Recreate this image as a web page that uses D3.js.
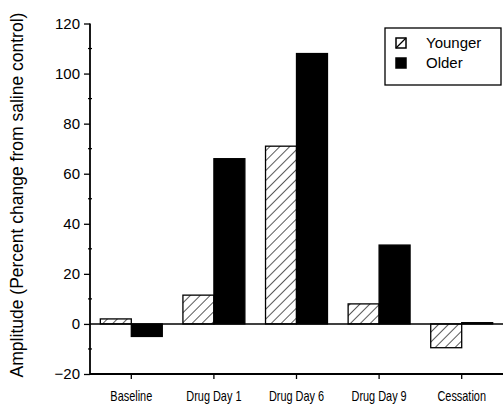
<!DOCTYPE html>
<html><head><meta charset="utf-8">
<script src="https://cdn.jsdelivr.net/npm/d3@7"></script>
<style>
body{margin:0;background:#fff;}
svg{display:block;}
</style></head>
<body><svg id="c" width="503" height="405"></svg>
<script>
const categories = ["Baseline","Drug Day 1","Drug Day 6","Drug Day 9","Cessation"];
const seriesNames = ["Younger","Older"];
const younger = [2, 11.5, 71, 8, -9.5];
const older = [-5, 66, 108, 31.5, 0.5];
const yTicks = [-20, 0, 20, 40, 60, 80, 100, 120];
const yMinorTicks = [-10, 10, 30, 50, 70, 90, 110];
const yTitle = "Amplitude (Percent change from saline control)";

const svg = d3.select("#c");
const x0 = 90, x1 = 503, yTop = 23.5, yBot = 374;

const defs = svg.append("defs");
const pat = defs.append("pattern").attr("id","hatch").attr("patternUnits","userSpaceOnUse")
  .attr("width",7).attr("height",7).attr("patternTransform","rotate(45)");
pat.append("rect").attr("width",7).attr("height",7).attr("fill","#fff");
pat.append("line").attr("x1",0).attr("y1",0).attr("x2",0).attr("y2",7).attr("stroke","#000").attr("stroke-width",1.3);

const y = d3.scaleLinear().domain([-20,120]).range([yBot, yTop]);
const x = d3.scaleBand().domain(categories).range([x0, x1]).paddingInner(0.25).paddingOuter(0.125);
const xs = d3.scaleBand().domain(seriesNames).range([0, x.bandwidth()]);

const data = [];
categories.forEach((c,i)=>{
  data.push({cat:c, s:"Younger", v:younger[i]});
  data.push({cat:c, s:"Older", v:older[i]});
});

// bars
svg.append("g").selectAll("rect").data(data).join("rect")
  .attr("x", d => x(d.cat) + xs(d.s))
  .attr("width", xs.bandwidth())
  .attr("y", d => y(Math.max(0, d.v)))
  .attr("height", d => Math.abs(y(d.v) - y(0)))
  .attr("fill", d => d.s === "Younger" ? "url(#hatch)" : "#000")
  .attr("stroke", "#000").attr("stroke-width", 1.3);

// zero line
svg.append("line").attr("x1", x0).attr("x2", x1).attr("y1", y(0)).attr("y2", y(0))
  .attr("stroke","#000").attr("stroke-width",1.4);

// y axis
const yAxis = d3.axisLeft(y).tickValues(yTicks).tickSize(6).tickPadding(4).tickFormat(d3.format("d"));
const gy = svg.append("g").attr("transform", `translate(${x0},0)`).call(yAxis);
gy.select(".domain").remove();
gy.selectAll("text").attr("font-family","'Liberation Sans', Arial, sans-serif").attr("font-size",15).attr("fill","#000");
gy.selectAll("line").attr("stroke","#000").attr("stroke-width",1.3);
svg.append("line").attr("x1",x0).attr("x2",x0).attr("y1",y(120)).attr("y2",y(-20)).attr("stroke","#000").attr("stroke-width",1.8);
// minor ticks
svg.append("g").selectAll("line").data(yMinorTicks).join("line")
  .attr("x1", x0-2).attr("x2", x0+2).attr("y1", d=>y(d)).attr("y2", d=>y(d))
  .attr("stroke","#000").attr("stroke-width",1.2);

// x axis
const xAxis = d3.axisBottom(x).tickSize(5).tickPadding(12);
const gx = svg.append("g").attr("transform", `translate(0,${yBot})`).call(xAxis);
gx.select(".domain").attr("d", `M${x0},0H${x1}`).attr("stroke","#000").attr("stroke-width",1.8);
gx.selectAll("line").attr("stroke","#000").attr("stroke-width",1.3);
gx.selectAll("text").attr("font-family","'Liberation Sans', Arial, sans-serif")
  .attr("font-size",14).attr("fill","#000").attr("transform","scale(0.78,1)");

// y title
svg.append("text").attr("transform","translate(23,195) rotate(-90)")
  .attr("text-anchor","middle").attr("font-family","'Liberation Sans', Arial, sans-serif")
  .attr("font-size",17.5).attr("fill","#000").text(yTitle);

// legend
const lg = svg.append("g");
lg.append("rect").attr("x",385).attr("y",28).attr("width",116).attr("height",57)
  .attr("fill","#fff").attr("stroke","#000").attr("stroke-width",1.3);
seriesNames.forEach((s,i)=>{
  const yy = 38 + i*20;
  lg.append("rect").attr("x",396).attr("y",yy).attr("width",10).attr("height",10)
    .attr("fill", s==="Younger" ? "#fff" : "#000").attr("stroke","#000").attr("stroke-width",1.5);
  if (s==="Younger") lg.append("line").attr("x1",396).attr("y1",yy+10).attr("x2",406).attr("y2",yy).attr("stroke","#000").attr("stroke-width",1.3);
  lg.append("text").attr("x",426).attr("y",yy+10).attr("font-family","'Liberation Sans', Arial, sans-serif")
    .attr("font-size",15).attr("fill","#000").text(s);
});
</script></body></html>
